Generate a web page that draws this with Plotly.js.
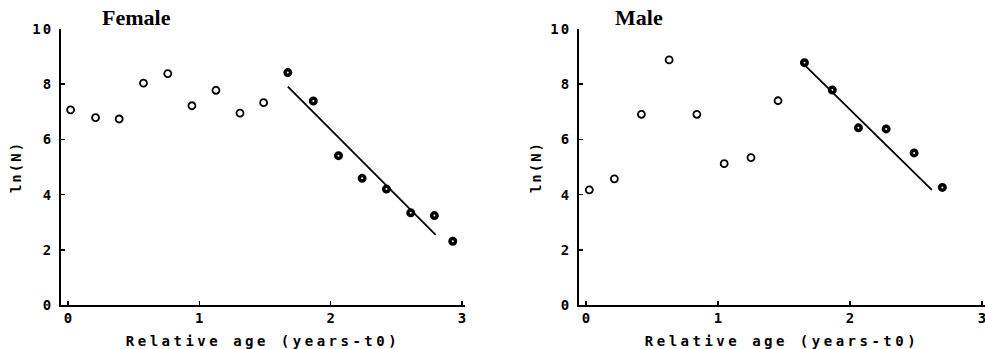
<!DOCTYPE html>
<html>
<head>
<meta charset="utf-8">
<script src="https://cdn.plot.ly/plotly-3.0.1.min.js"></script>
<style>
  html, body { margin: 0; padding: 0; background: #fff; }
  #chart { width: 985px; height: 349px; }
  .xtitle, .x2title { letter-spacing: 3.5px; }
  .ytitle, .y2title { letter-spacing: 2px; }
  .ytick text, .y2tick text { letter-spacing: 2px; }
</style>
</head>
<body>
<div id="chart"></div>
<script>
// ---- data ----
const femaleOpenX = [0.02, 0.21, 0.39, 0.575, 0.76, 0.944, 1.127, 1.31, 1.49];
const femaleOpenY = [7.07, 6.79, 6.74, 8.04, 8.38, 7.22, 7.78, 6.95, 7.33];
const femaleFitX  = [1.674, 1.868, 2.06, 2.24, 2.425, 2.61, 2.79, 2.93];
const femaleFitY  = [8.42, 7.39, 5.41, 4.59, 4.20, 3.34, 3.24, 2.31];
const femaleLineX = [1.674, 2.80];
const femaleLineY = [7.91, 2.54];

const maleOpenX = [0.025, 0.215, 0.42, 0.63, 0.84, 1.047, 1.25, 1.455];
const maleOpenY = [4.17, 4.57, 6.91, 8.88, 6.91, 5.12, 5.34, 7.40];
const maleFitX  = [1.655, 1.866, 2.064, 2.274, 2.486, 2.70];
const maleFitY  = [8.78, 7.79, 6.42, 6.38, 5.51, 4.26];
const maleLineX = [1.63, 2.62];
const maleLineY = [8.82, 4.17];

const panelTitles = ["Female", "Male"];
const xTitle = "Relative age (years-t0)";
const yTitle = "ln(N)";
const xTicks = [0, 1, 2, 3];
const yTicks = [0, 2, 4, 6, 8, 10];

// ---- styles ----
const openMarker = {symbol: 'circle-open', size: 7, color: '#000', line: {width: 1.8, color: '#000'}};
const fitMarker  = {symbol: 'circle-open', size: 5.5, color: '#000', line: {width: 3.5, color: '#000'}};
const fitLine    = {color: '#000', width: 1.8};

function pts(x, y, xa, ya, marker) {
  return {x: x, y: y, xaxis: xa, yaxis: ya, type: 'scatter', mode: 'markers',
          marker: marker, hoverinfo: 'x+y', showlegend: false, cliponaxis: false};
}
function line(x, y, xa, ya) {
  return {x: x, y: y, xaxis: xa, yaxis: ya, type: 'scatter', mode: 'lines',
          line: fitLine, hoverinfo: 'skip', showlegend: false};
}

const data = [
  line(femaleLineX, femaleLineY, 'x', 'y'),
  pts(femaleOpenX, femaleOpenY, 'x', 'y', openMarker),
  pts(femaleFitX, femaleFitY, 'x', 'y', fitMarker),
  line(maleLineX, maleLineY, 'x2', 'y2'),
  pts(maleOpenX, maleOpenY, 'x2', 'y2', openMarker),
  pts(maleFitX, maleFitY, 'x2', 'y2', fitMarker)
];

const tickFont  = {family: 'DejaVu Sans Mono', size: 14, color: '#000', weight: 'bold'};
const titleFont = {family: 'DejaVu Sans Mono', size: 14, color: '#000', weight: 'bold'};

function xax(domain, anchor) {
  return {domain: domain, anchor: anchor, range: [-0.053, 3.023], tickvals: xTicks,
          showline: true, linecolor: '#000', linewidth: 2, ticks: 'inside', ticklen: 4,
          tickwidth: 1.5, tickcolor: '#000', showgrid: false, zeroline: false,
          tickfont: tickFont, ticklabelstandoff: -1, ticklabeloverflow: 'allow',
          title: {text: xTitle, font: titleFont, standoff: 14}};
}
function yax(anchor, standoff) {
  return {anchor: anchor, range: [0, 10], tickvals: yTicks,
          showline: true, linecolor: '#000', linewidth: 2, ticks: 'inside', ticklen: 4,
          tickwidth: 1.5, tickcolor: '#000', showgrid: false, zeroline: false,
          tickfont: tickFont, ticklabelstandoff: 3, ticklabeloverflow: 'allow',
          title: {text: yTitle, font: titleFont, standoff: standoff}};
}

const layout = {
  width: 985, height: 349,
  margin: {l: 61, r: 0, t: 29, b: 44},
  paper_bgcolor: '#fff', plot_bgcolor: '#fff',
  showlegend: false,
  xaxis: xax([0, 0.4372], 'y'),
  yaxis: yax('x', 7),
  xaxis2: xax([0.5606, 1], 'y2'),
  yaxis2: yax('x2', 5),
  annotations: [
    {text: panelTitles[0], xref: 'paper', yref: 'paper', x: 0.0422, y: 1.04,
     xanchor: 'left', yanchor: 'middle', showarrow: false,
     font: {family: 'Liberation Serif', size: 22, color: '#000', weight: 'bold'}},
    {text: panelTitles[1], xref: 'paper', yref: 'paper', x: 0.5974, y: 1.04,
     xanchor: 'left', yanchor: 'middle', showarrow: false,
     font: {family: 'Liberation Serif', size: 22, color: '#000', weight: 'bold'}}
  ]
};

Plotly.newPlot('chart', data, layout, {displayModeBar: false, staticPlot: true});
</script>
</body>
</html>
